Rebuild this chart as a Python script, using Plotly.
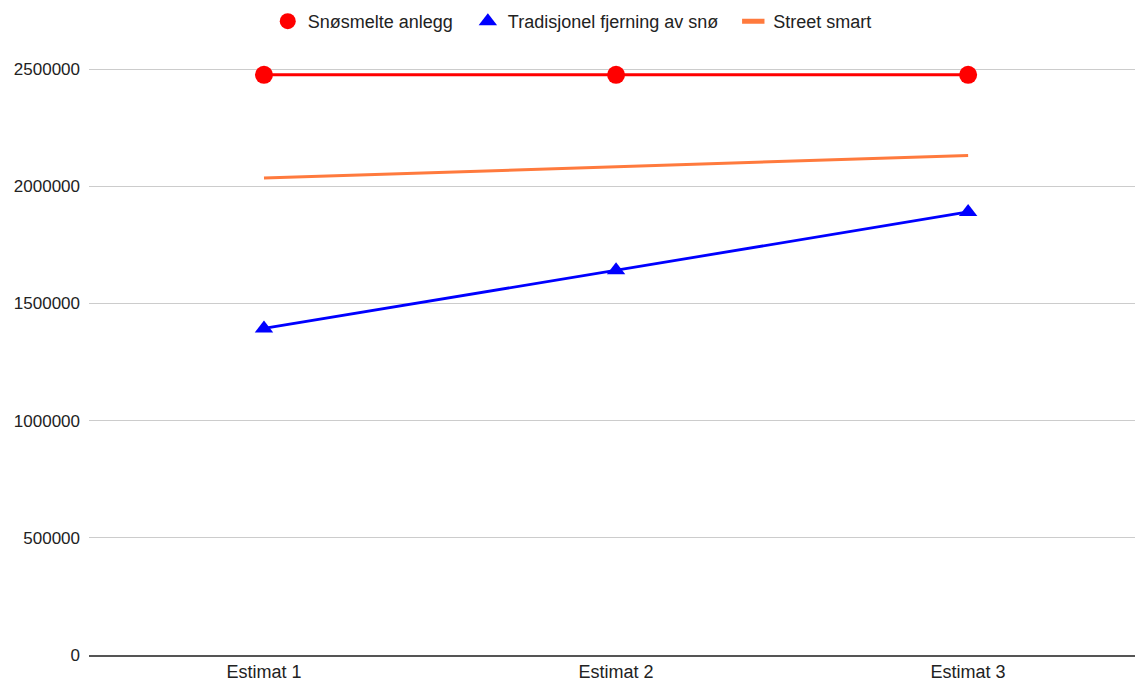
import plotly.graph_objects as go

categories = ["Estimat 1", "Estimat 2", "Estimat 3"]
snosmelte = [2475000, 2475000, 2475000]
tradisjonel = [1393000, 1641000, 1890000]
street_smart = [2035000, 2082000, 2131000]
y_ticks = [0, 500000, 1000000, 1500000, 2000000, 2500000]

RED = "#ff0000"
BLUE = "#0000ff"
ORANGE = "#ff7a3d"
FONT = "Liberation Sans, Arial, sans-serif"
GAP = "\u00a0\u00a0"  # extra spacing between legend entries

fig = go.Figure()

# Data traces (legend entries are drawn by the marker-only traces below)
fig.add_trace(go.Scatter(x=categories, y=snosmelte, mode="lines+markers",
                         line=dict(color=RED, width=3),
                         marker=dict(color=RED, size=18, symbol="circle"),
                         showlegend=False, legendgroup="a"))
fig.add_trace(go.Scatter(x=categories, y=tradisjonel, mode="lines+markers",
                         line=dict(color=BLUE, width=2.8),
                         marker=dict(color=BLUE, size=16, symbol="triangle-up"),
                         showlegend=False, legendgroup="b"))
fig.add_trace(go.Scatter(x=categories, y=street_smart, mode="lines",
                         line=dict(color=ORANGE, width=3),
                         showlegend=False, legendgroup="c"))

# Legend keys
fig.add_trace(go.Scatter(x=[None], y=[None], mode="markers", name="Snøsmelte anlegg" + GAP,
                         marker=dict(color=RED, size=18, symbol="circle"), legendgroup="a"))
fig.add_trace(go.Scatter(x=[None], y=[None], mode="markers", name="Tradisjonel fjerning av snø" + GAP,
                         marker=dict(color=BLUE, size=16, symbol="triangle-up"), legendgroup="b"))
fig.add_trace(go.Scatter(x=[None], y=[None], mode="markers", name="Street smart",
                         marker=dict(color=ORANGE, size=18, symbol="line-ew-open",
                                     line=dict(color=ORANGE, width=6)), legendgroup="c"))

fig.update_layout(
    width=1135, height=681,
    margin=dict(l=89, r=0, t=40, b=26),
    paper_bgcolor="white", plot_bgcolor="white",
    font=dict(family=FONT, size=17, color="#222222"),
    legend=dict(orientation="h", x=0.462, xanchor="center", y=1.0, yanchor="bottom",
                font=dict(size=18, color="#222222"), itemsizing="trace",
                bgcolor="rgba(0,0,0,0)"),
    xaxis=dict(type="category", range=[-0.497, 2.474], showgrid=False,
               showline=True, linecolor="#555555", linewidth=1.5,
               ticks="", tickfont=dict(size=18)),
    yaxis=dict(range=[0, 2623720], tickvals=y_ticks, ticktext=[str(v) for v in y_ticks],
               showgrid=True, gridcolor="#cccccc", gridwidth=1, zeroline=False,
               ticks="", tickfont=dict(size=17), ticklabelstandoff=8),
)

fig.write_html("out.html")
